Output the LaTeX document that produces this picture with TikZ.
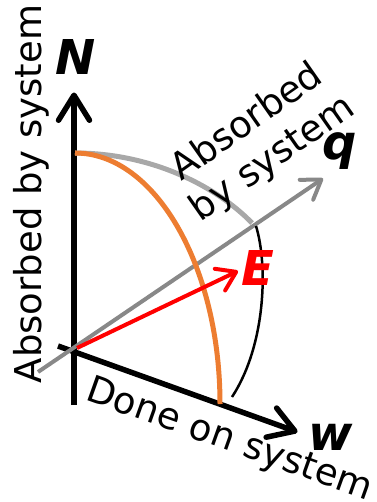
\documentclass[tikz,border=0pt]{standalone}
\usepackage{fontspec}
\setmainfont{DejaVu Sans}
\usetikzlibrary{arrows.meta}
\definecolor{qgray}{RGB}{136,136,136}
\definecolor{arcgray}{RGB}{168,168,168}
\definecolor{orng}{RGB}{237,125,49}
\definecolor{ered}{RGB}{255,0,0}
\begin{document}
\begin{tikzpicture}[x=1pt,y=-1pt,
  lbl/.style={font=\fontsize{37}{44}\selectfont, inner sep=0pt},
  axlbl/.style={font=\fontsize{48}{52}\selectfont\bfseries\itshape, inner sep=0pt},
  bigbarb/.tip={Straight Barb[length=25pt,width=31pt,round]},
  smallbarb/.tip={Straight Barb[length=18pt,width=24pt,round]},
  axis/.style={line width=5.5pt},
]
\useasboundingbox (0,0) rectangle (376,502);
% coordinates
\coordinate (O) at (74,351);
\coordinate (Nbot) at (74,405);
\coordinate (Ntip) at (74,92.5);
\coordinate (Wstart) at (58,346);
\coordinate (Wtip) at (297.5,432);
\coordinate (Qstart) at (38,372);
\coordinate (Qtip) at (323,178.5);
\coordinate (Estart) at (77,348);
\coordinate (Etip) at (238,271);
\coordinate (Ntop) at (75,153);
\coordinate (Qpt) at (252,223);
\coordinate (Wpt) at (220,404);
\coordinate (Bs) at (256,226);
\coordinate (Be) at (232,397);
% axes
\draw[axis,-{bigbarb}] (Nbot) -- (Ntip);
\draw[axis,-{bigbarb}] (Wstart) -- (Wtip);
% gray arc
\draw[arcgray,line width=5pt] (Ntop) .. controls (150,153) and (215,185) .. (Qpt);
% q axis
\draw[qgray,line width=4pt,-{smallbarb}] (Qstart) -- (Qtip);
% orange arc
\draw[orng,line width=5pt] (Ntop) .. controls (154.6,153) and (220,265.4) .. (Wpt);
% black arc
\draw[black,line width=2.5pt] (Bs) .. controls (268,265) and (266,345) .. (Be);
% E vector
\draw[ered,line width=4pt,-{smallbarb}] (Estart) -- (Etip);
% labels
\node[axlbl] (Nlbl) at (76,57) {N};
\node[axlbl] (qlbl) at (340,151) {q};
\node[axlbl] (wlbl) at (331,437) {w};
\node[axlbl,text=ered] (Elbl) at (258,268) {E};
\node[lbl,rotate=90] (absN) at (31,194) {Absorbed by system};
\node[lbl,rotate=35,align=center] (absQ) at (260,141) {Absorbed\\by system};
\node[lbl,rotate=-19.6] (done) at (229,441) {Done on system};
\end{tikzpicture}
\end{document}
